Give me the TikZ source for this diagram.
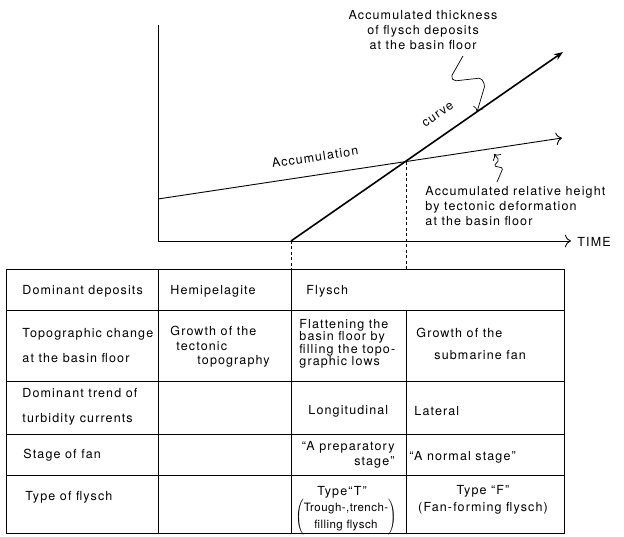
\documentclass[tikz,border=0pt]{standalone}
\usepackage{fontspec}
\setmainfont{TeX Gyre Heros}[LetterSpace=9]
\usetikzlibrary{arrows, arrows.meta}
\usetikzlibrary{calc}

\begin{document}
\begin{tikzpicture}[x=1pt, y=-1pt, line width=0.9pt,
    font=\fontsize{12.5}{15}\selectfont,
    txt/.style={anchor=west, inner sep=0pt, align=left},
    guide/.style={line width=0.8pt, dash pattern=on 3pt off 2.5pt}]
  \useasboundingbox (0,0) rectangle (624,537);

  % graph
  \coordinate (O) at (158,241);
  \coordinate (ytop) at (158,25);
  \coordinate (xend) at (571,241);
  \coordinate (a0) at (158,199);
  \coordinate (a1) at (562,138);
  \coordinate (f0) at (291,241);
  \coordinate (f1) at (563,52);
  \coordinate (X) at (406,162);
  \coordinate (t1) at (291,269);
  \coordinate (t2) at (406,269);

  \draw[-{To[length=6pt]}] (ytop) -- (O) -- (xend);
  \node[txt] (time) at (577,242) {TIME};
  \draw[-{To[length=6pt]}] (a0) -- (a1);
  \draw[line width=1.6pt, -{Stealth[length=9pt]}] (f0) -- (f1);
  \draw[guide] (f0) -- (t1);
  \draw[guide] (X) -- (t2);

  \node[inner sep=0pt, rotate=8.6] (acc) at (315,157) {Accumulation};
  \node[inner sep=0pt, rotate=34.8] (crv) at (438,115) {curve};
  \node[inner sep=0pt, align=center] (thick) at (423,30)
    {Accumulated thickness\\of flysch deposits\\at the basin floor};
  \node[txt] (rel) at (425,206)
    {Accumulated relative height\\by tectonic deformation\\at the basin floor};

  % wiggly pointers
  \coordinate (p0) at (463,56);
  \coordinate (p1) at (477,112);
  \coordinate (q0) at (497,182);
  \coordinate (q1) at (494,154);
  \draw[line width=0.7pt, -{To[length=5pt]}, rounded corners=2pt]
    (p0) -- (451,77) -- (454,81) -- (481,78) -- (485,85) -- (p1);
  \draw[line width=0.7pt, -{To[length=5pt]}, rounded corners=1.5pt]
    (q0) -- (503,168) -- (494,166) -- (499,160) -- (q1);

  % table
  \draw (6,269) rectangle (564,533);
  \foreach \y in {310,381,434,475}
    \draw (6,\y) -- (564,\y);
  \draw (158,269) -- (158,533);
  \draw (291,269) -- (291,533);
  \draw (406,310) -- (406,533);

  % row 1
  \node[txt] (dd) at (22,291) {Dominant deposits};
  \node[txt] (hemi) at (170,291) {Hemipelagite};
  \node[txt] (fly) at (306,291) {Flysch};
  % row 2
  \node[txt, font=\fontsize{12.5}{25}\selectfont] (topo) at (22,346)
    {Topographic change\\at the basin floor};
  \node[txt, font=\fontsize{12.5}{14.5}\selectfont] (grtec) at (170,347)
    {Growth of the\\\hspace*{6pt}tectonic\\\hspace*{27pt}topography};
  \node[txt, font=\fontsize{12.5}{12.5}\selectfont] (flat) at (299,344)
    {Flattening the\\basin floor by\\filling the topo-\\graphic lows};
  \node[txt, font=\fontsize{12.5}{22}\selectfont] (grfan) at (416,344)
    {Growth of the\\\hspace*{18pt}submarine fan};
  % row 3
  \node[txt, font=\fontsize{12.5}{25}\selectfont] (trend) at (22,407)
    {Dominant trend of\\turbidity currents};
  \node[txt] (long) at (308,411) {Longitudinal};
  \node[txt] (lat) at (414,411) {Lateral};
  % row 4
  \node[txt] (stage) at (23,455) {Stage of fan};
  \node[anchor=east, inner sep=0pt, align=right] (prep) at (395,455)
    {“A preparatory\\stage”};
  \node[txt] (norm) at (409,457) {“A normal stage”};
  % row 5
  \node[txt] (type) at (25,497) {Type of flysch};
  \node[inner sep=0pt] (typet) at (342,492) {Type“T”};
  \node[inner sep=0pt, font=\fontsize{11.5}{17}\selectfont\addfontfeatures{LetterSpace=4}]
    (trough) at (346,517)
    {$\left(\begin{tabular}{@{}c@{}}Trough-,trench-\\filling flysch\end{tabular}\right)$};
  \node[inner sep=0pt, align=center, font=\fontsize{12.5}{17}\selectfont] (typef) at (483,500)
    {Type “F”\\(Fan-forming flysch)};
\end{tikzpicture}
\end{document}
